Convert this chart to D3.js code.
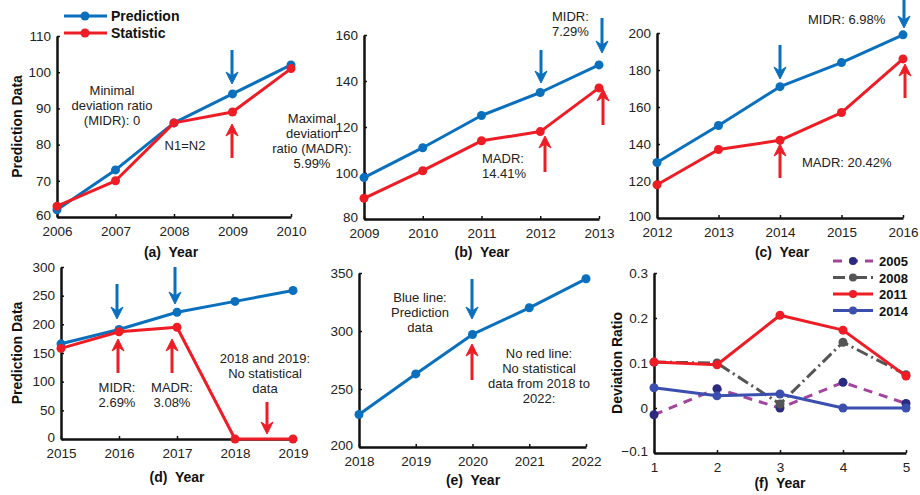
<!DOCTYPE html>
<html>
<head>
<meta charset="utf-8">
<script src="https://cdn.jsdelivr.net/npm/d3@7"></script>
<style>
  body { margin: 0; background: #fff; }
  svg { display: block; font-family: "Liberation Sans", Arial, sans-serif; }
  .tick text { font-size: 13.5px; fill: #222; }
  .domain { stroke: #111; stroke-width: 2.5px; }
  .tick line { stroke: #111; stroke-width: 1.5px; }
</style>
</head>
<body>
<svg id="chart" width="920" height="495"></svg>
<script>
// ---- data ----
const yearsA = [2006, 2007, 2008, 2009, 2010];
const predA  = [62, 73, 86, 94, 102];
const statA  = [63, 70, 86, 89, 101];

const yearsB = [2009, 2010, 2011, 2012, 2013];
const predB  = [98, 111, 125, 135, 147];
const statB  = [89, 101, 114, 118, 137];

const yearsC = [2012, 2013, 2014, 2015, 2016];
const predC  = [130, 150, 171, 184, 199];
const statC  = [118, 137, 142, 157, 186];

const yearsD = [2015, 2016, 2017, 2018, 2019];
const predD  = [166, 191, 221, 240, 259];
const statD  = [158, 187, 195, 0, 0];

const yearsE = [2018, 2019, 2020, 2021, 2022];
const predE  = [228, 263, 297, 320, 345];

const stepsF = [1, 2, 3, 4, 5];
const dev2005 = [-0.015, 0.043, 0.0, 0.057, 0.010];
const dev2008 = [0.102, 0.100, 0.009, 0.146, 0.074];
const dev2011 = [0.102, 0.096, 0.206, 0.173, 0.071];
const dev2014 = [0.045, 0.027, 0.031, 0.0, 0.0];

const ticksA = [60, 70, 80, 90, 100, 110];
const ticksB = [80, 100, 120, 140, 160];
const ticksC = [100, 120, 140, 160, 180, 200];
const ticksD = [0, 50, 100, 150, 200, 250, 300];
const ticksE = [200, 250, 300, 350];
const ticksF = [-0.1, 0, 0.1, 0.2, 0.3];

const BLUE = "#0a70be";
const RED = "#ee1c25";

const svg = d3.select("#chart");

// Draws one panel's axes and returns its scales
function panel(box, xDomain, yTicks, title, yLabel) {
  const x = d3.scaleLinear().domain(xDomain).range([box.x0, box.x1]);
  const y = d3.scaleLinear().domain(d3.extent(yTicks)).range([box.yBot, box.yTop]);
  const g = svg.append("g");
  g.append("g")
    .attr("transform", `translate(0,${box.yBot})`)
    .call(d3.axisBottom(x).tickValues(d3.range(xDomain[0], xDomain[1] + 1)).tickFormat(d3.format("d")).tickSizeInner(-3).tickSizeOuter(0).tickPadding(9));
  const ya = g.append("g")
    .attr("transform", `translate(${box.x0},0)`)
    .call(d3.axisLeft(y).tickValues(yTicks).tickFormat(box.fmt || d3.format("d")).tickSizeInner(-3).tickSizeOuter(0).tickPadding(6));
  // lift the lowest label a touch so it clears the first year label
  ya.selectAll(".tick text").filter((d, i) => i === 0).attr("dy", "0.2em");
  svg.append("text")
    .attr("x", box.tx).attr("y", box.ty)
    .attr("text-anchor", "middle")
    .style("font-size", "14px").style("font-weight", "bold").attr("fill", "#111")
    .attr("xml:space", "preserve")
    .text(title);
  if (yLabel) {
    svg.append("text")
      .attr("transform", `translate(${box.lx},${(box.yTop + box.yBot) / 2}) rotate(-90)`)
      .attr("text-anchor", "middle")
      .style("font-size", "14px").style("font-weight", "bold").attr("fill", "#111")
      .text(yLabel);
  }
  return { x, y };
}

function series(s, xs, ys, color, dash, markerColor) {
  const pts = xs.map((v, i) => [s.x(v), s.y(ys[i])]);
  svg.append("path")
    .attr("d", d3.line()(pts))
    .attr("fill", "none").attr("stroke", color).attr("stroke-width", 3)
    .attr("stroke-linejoin", "round")
    .attr("stroke-dasharray", dash || null);
  svg.append("g").selectAll("circle").data(pts).join("circle")
    .attr("cx", d => d[0]).attr("cy", d => d[1]).attr("r", 4.5)
    .attr("fill", markerColor || color);
}

// Vertical arrow from y0 to y1 at x
function arrow(x, y0, y1, color) {
  const dir = Math.sign(y1 - y0);
  const hl = 12, hw = 6, notch = 4;
  svg.append("line")
    .attr("x1", x).attr("x2", x).attr("y1", y0).attr("y2", y1 - dir * (hl - notch))
    .attr("stroke", color).attr("stroke-width", 3);
  svg.append("path")
    .attr("d", `M${x},${y1} L${x - hw},${y1 - dir * hl} L${x},${y1 - dir * (hl - notch)} L${x + hw},${y1 - dir * hl} Z`)
    .attr("fill", color).attr("stroke", color).attr("stroke-width", 1);
}

function note(x, y, lines, anchor) {
  const t = svg.append("text")
    .attr("text-anchor", anchor || "middle")
    .style("font-size", "13px").attr("fill", "#222");
  lines.forEach((l, i) => t.append("tspan").attr("x", x).attr("y", y + i * 15).text(l));
}

// (a)
const sA = panel({ x0: 57, x1: 291, yTop: 36, yBot: 217, tx: 171, ty: 257, lx: 22 }, [2006, 2010], ticksA, "(a)  Year", "Prediction Data");
series(sA, yearsA, predA, BLUE);
series(sA, yearsA, statA, RED);
arrow(232, 50, 84, BLUE);
arrow(232, 158, 124, RED);
note(112, 95, ["Minimal", "deviation ratio", "(MIDR): 0"]);
note(185, 150, ["N1=N2"]);
note(312, 123, ["Maximal", "deviation", "ratio (MADR):", "5.99%"]);

// legend for the prediction/statistic pair
[["Prediction", BLUE, 16], ["Statistic", RED, 33]].forEach(([name, c, yy]) => {
  svg.append("line").attr("x1", 64).attr("x2", 107).attr("y1", yy).attr("y2", yy)
    .attr("stroke", c).attr("stroke-width", 3);
  svg.append("circle").attr("cx", 85).attr("cy", yy).attr("r", 4.5).attr("fill", c);
  svg.append("text").attr("x", 111).attr("y", yy + 5)
    .style("font-size", "14px").style("font-weight", "bold").attr("fill", "#111").text(name);
});

// (b)
const sB = panel({ x0: 364, x1: 599, yTop: 35, yBot: 219, tx: 482, ty: 257 }, [2009, 2013], ticksB, "(b)  Year");
series(sB, yearsB, predB, BLUE);
series(sB, yearsB, statB, RED);
arrow(541, 50, 83, BLUE);
arrow(602, 18, 53, BLUE);
arrow(545, 172, 136, RED);
arrow(603, 125, 89, RED);
note(552, 21, ["MIDR:", "7.29%"], "start");
note(482, 163, ["MADR:", "14.41%"], "start");

// (c)
const sC = panel({ x0: 657, x1: 903, yTop: 33, yBot: 218, tx: 782, ty: 257 }, [2012, 2016], ticksC, "(c)  Year");
series(sC, yearsC, predC, BLUE);
series(sC, yearsC, statC, RED);
arrow(780, 45, 79, BLUE);
arrow(904, 0, 28, BLUE);
arrow(780, 178, 144, RED);
arrow(905, 98, 64, RED);
note(808, 24, ["MIDR: 6.98%"], "start");
note(802, 167, ["MADR: 20.42%"], "start");

// (d)
const sD = panel({ x0: 61, x1: 293, yTop: 267, yBot: 439, tx: 177, ty: 482, lx: 22 }, [2015, 2019], ticksD, "(d)  Year", "Prediction Data");
series(sD, yearsD, predD, BLUE);
series(sD, yearsD, statD, RED);
arrow(117, 284, 319, BLUE);
arrow(175, 267, 304, BLUE);
arrow(118, 373, 339, RED);
arrow(172, 373, 339, RED);
arrow(267, 402, 434, RED);
note(117, 392, ["MIDR:", "2.69%"]);
note(172, 392, ["MADR:", "3.08%"]);
note(265, 363, ["2018 and 2019:", "No statistical", "data"]);

// (e)
const sE = panel({ x0: 359, x1: 586, yTop: 273, yBot: 447, tx: 473, ty: 485 }, [2018, 2022], ticksE, "(e)  Year");
series(sE, yearsE, predE, BLUE);
arrow(472, 279, 319, BLUE);
arrow(472, 380, 344, RED);
note(420, 302, ["Blue line:", "Prediction", "data"]);
note(539, 358, ["No red line:", "No statistical", "data from 2018 to", "2022:"]);

// (f)
const sF = panel({ x0: 654, x1: 906, yTop: 273, yBot: 453, tx: 780, ty: 488, lx: 622, fmt: d3.format("") }, [1, 5], ticksF, "(f)  Year", "Deviation Ratio");
const fSeries = [
  ["2005", dev2005, "#a4449f", "9,7", "#2a2a80"],
  ["2008", dev2008, "#555555", "12,4,2,4", "#555555"],
  ["2011", dev2011, RED, null, RED],
  ["2014", dev2014, "#3a4fae", null, "#3a4fae"]
];
fSeries.forEach(([, vals, c, dash, mc]) => series(sF, stepsF, vals, c, dash, mc));
fSeries.forEach(([name, , c, dash, mc], i) => {
  const yy = 261 + i * 16.5;
  svg.append("line").attr("x1", 833).attr("x2", 873).attr("y1", yy).attr("y2", yy)
    .attr("stroke", c).attr("stroke-width", 3).attr("stroke-dasharray", dash || null);
  svg.append("circle").attr("cx", 853).attr("cy", yy).attr("r", 4).attr("fill", mc);
  svg.append("text").attr("x", 879).attr("y", yy + 5)
    .style("font-size", "13px").style("font-weight", "bold").attr("fill", "#111").text(name);
});
</script>
</body>
</html>
